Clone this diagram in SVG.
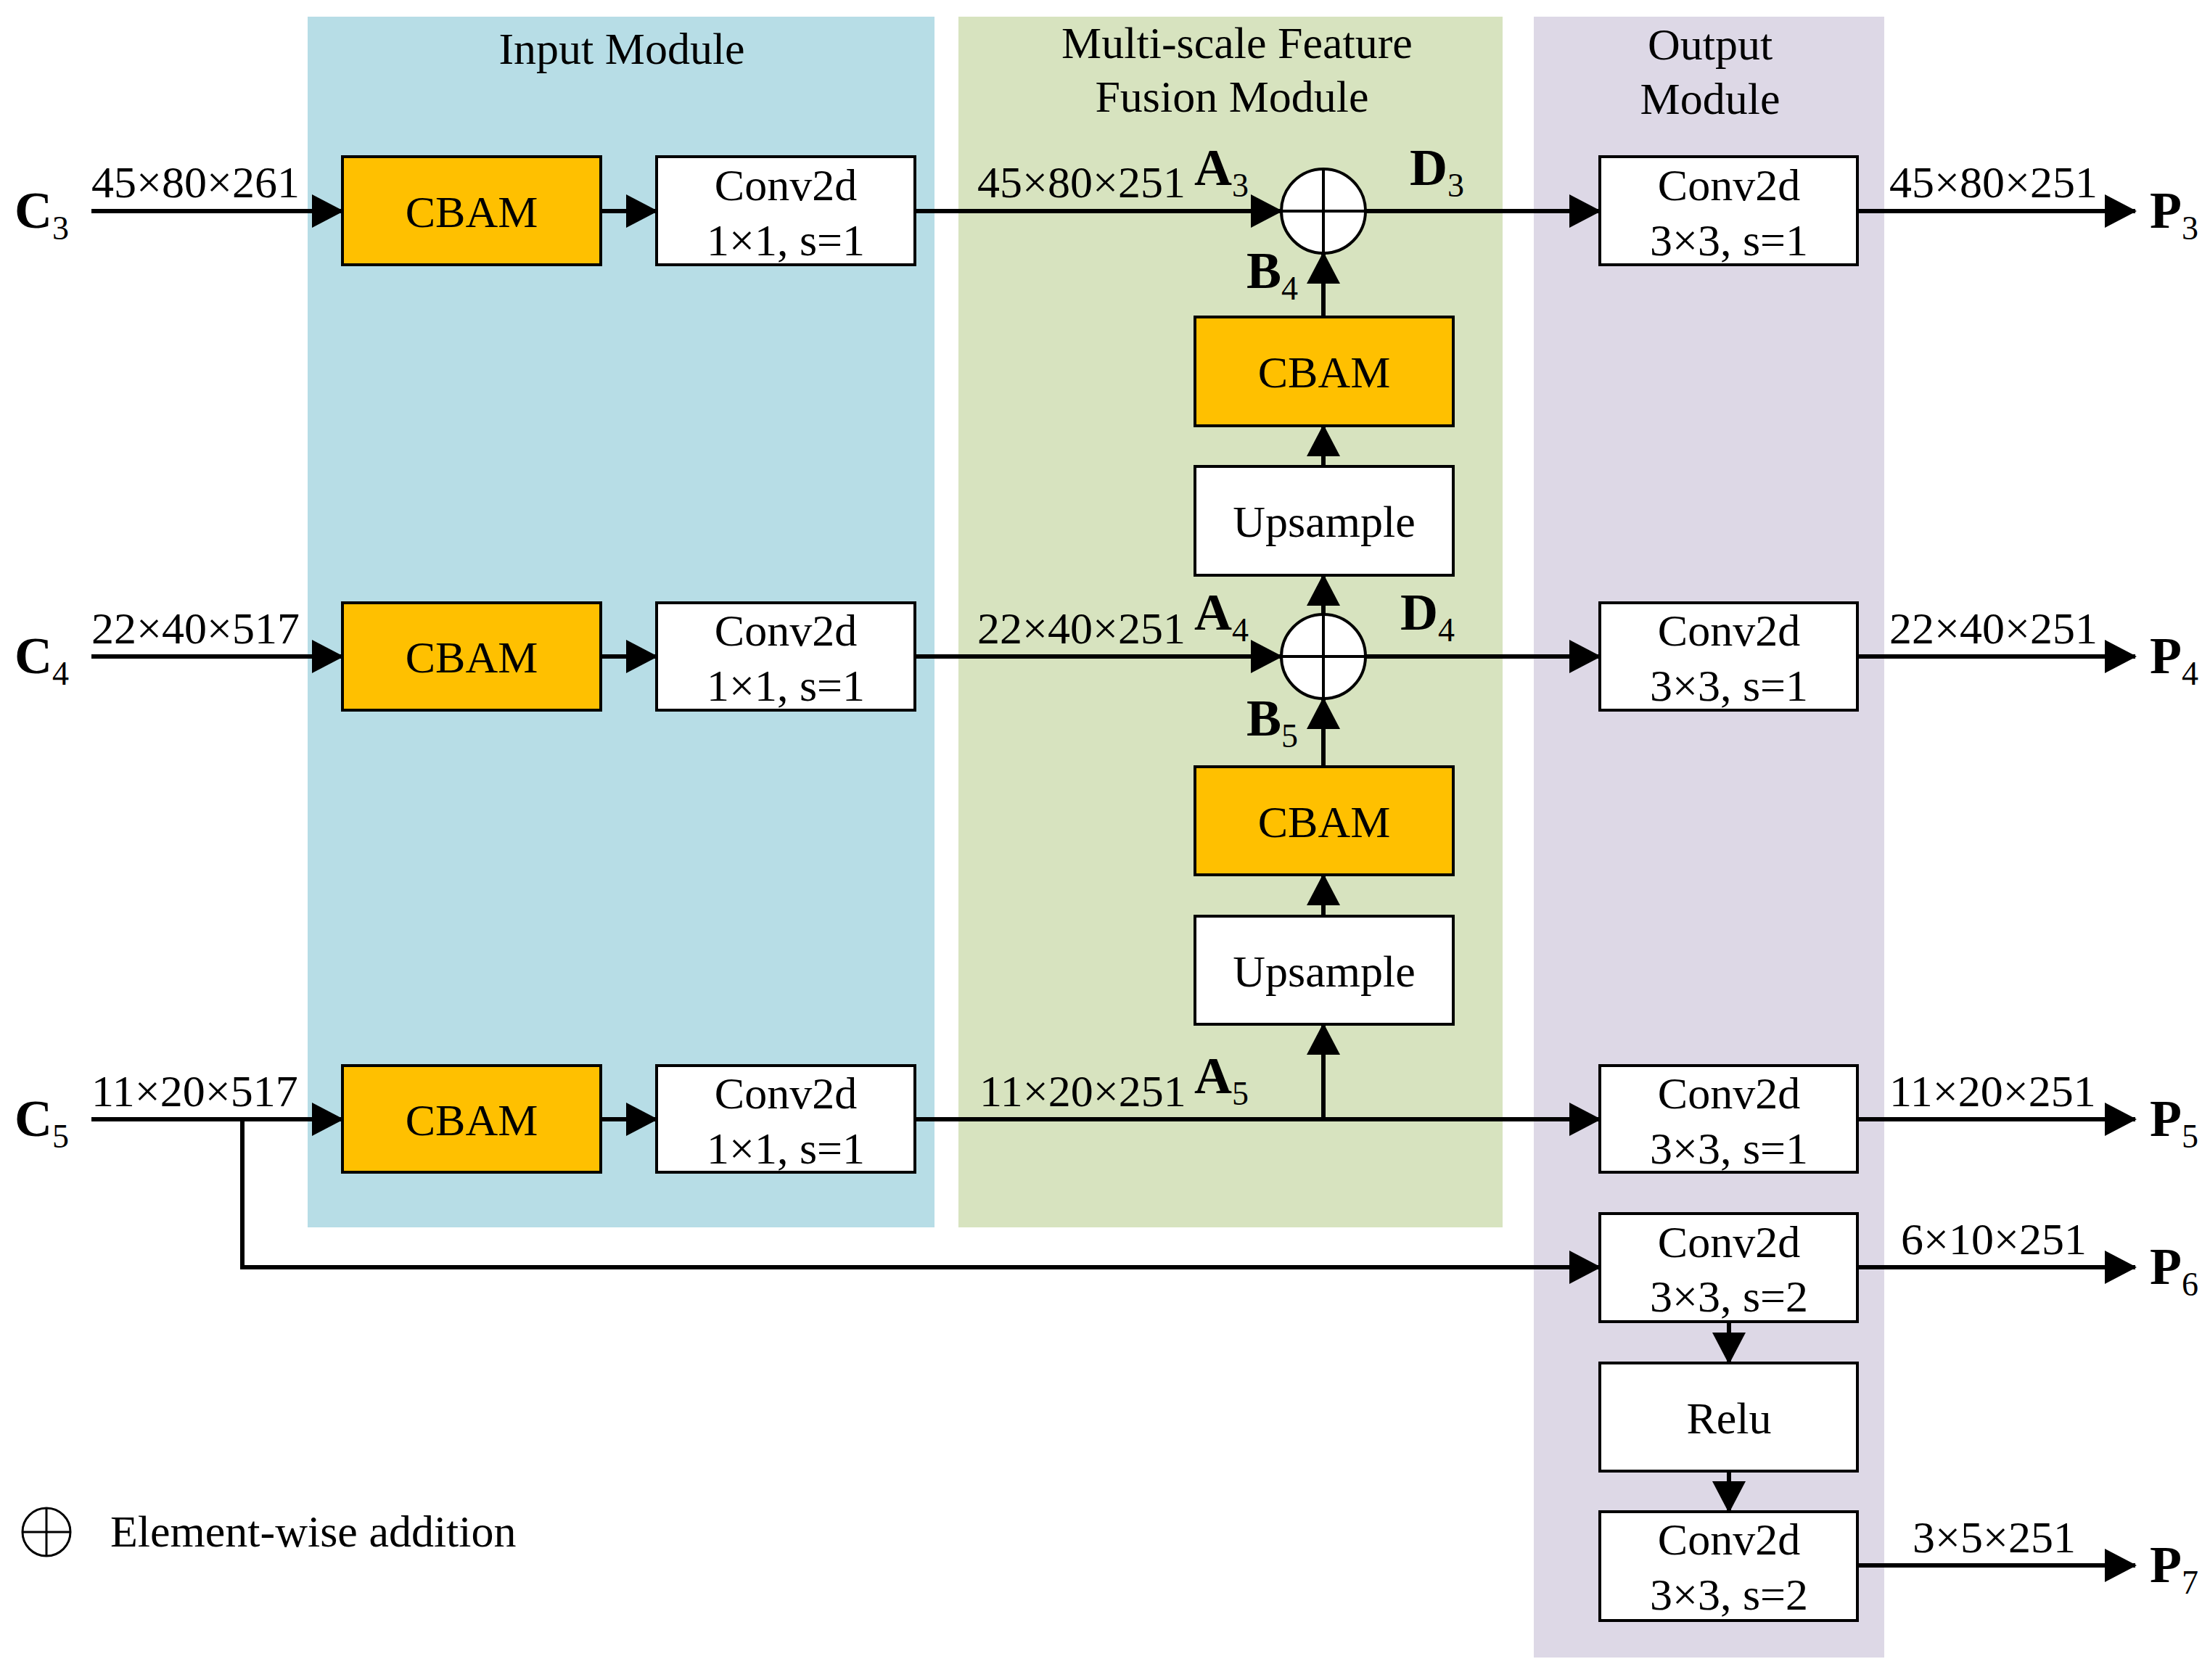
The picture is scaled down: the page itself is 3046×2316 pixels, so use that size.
<svg xmlns="http://www.w3.org/2000/svg" width="3046" height="2316" viewBox="0 0 3046 2316">
<style>
text{font-family:"Liberation Serif","Times New Roman",serif;fill:#000}
.t{font-size:62px;text-anchor:middle}
.d{font-size:62px}
.b{font-size:72px;font-weight:bold}
.s{font-size:46px;font-weight:normal}
.box{stroke:#000;stroke-width:4}
.w{fill:#fff}.y{fill:#FFC000}
.c line,.c path{stroke:#000;stroke-width:6;fill:none;marker-end:url(#ah)}
</style>
<defs>
<marker id="ah" markerUnits="userSpaceOnUse" markerWidth="44" markerHeight="46" refX="42" refY="23" orient="auto"><path d="M0,0 L44,23 L0,46 Z" fill="#000"/></marker>
</defs>
<rect width="3046" height="2316" fill="#fff"/>
<g id="panels">
<rect x="424" y="23" width="864" height="1669" fill="#B7DDE6"/>
<rect x="1321" y="23" width="750" height="1669" fill="#D7E3BF"/>
<rect x="2114" y="23" width="483" height="2262" fill="#DDD8E6"/>
<text class="t" x="857" y="88">Input Module</text>
<text class="t" x="1705" y="80">Multi-scale Feature</text>
<text class="t" x="1698" y="154">Fusion Module</text>
<text class="t" x="2357" y="82">Output</text>
<text class="t" x="2357" y="157">Module</text>
</g>
<g id="connectors" class="c">
<line x1="126" y1="291" x2="472" y2="291"/>
<line x1="828" y1="291" x2="905" y2="291"/>
<line x1="1261" y1="291" x2="1766" y2="291"/>
<line x1="1882" y1="291" x2="2205" y2="291"/>
<line x1="2560" y1="291" x2="2943" y2="291"/>
<line x1="126" y1="905" x2="472" y2="905"/>
<line x1="828" y1="905" x2="905" y2="905"/>
<line x1="1261" y1="905" x2="1766" y2="905"/>
<line x1="1882" y1="905" x2="2205" y2="905"/>
<line x1="2560" y1="905" x2="2943" y2="905"/>
<line x1="126" y1="1543" x2="472" y2="1543"/>
<line x1="828" y1="1543" x2="905" y2="1543"/>
<line x1="1261" y1="1543" x2="2205" y2="1543"/>
<line x1="2560" y1="1543" x2="2943" y2="1543"/>
<line x1="1824" y1="1543" x2="1824" y2="1412"/>
<line x1="1824" y1="1263" x2="1824" y2="1206"/>
<line x1="1824" y1="1057" x2="1824" y2="963"/>
<line x1="1824" y1="847" x2="1824" y2="793"/>
<line x1="1824" y1="643" x2="1824" y2="587"/>
<line x1="1824" y1="437" x2="1824" y2="349"/>
<path d="M334,1543 V1747 H2205"/>
<line x1="2560" y1="1747" x2="2943" y2="1747"/>
<line x1="2383" y1="1822" x2="2383" y2="1879"/>
<line x1="2383" y1="2028" x2="2383" y2="2084"/>
<line x1="2560" y1="2158" x2="2943" y2="2158"/>
</g>
<g id="input3"><rect class="box y" x="472" y="216" width="356" height="149"/><text class="t" x="650" y="313">CBAM</text></g>
<g id="conv3"><rect class="box w" x="905" y="216" width="356" height="149"/><text class="t" x="1083" y="276">Conv2d</text><text class="t" x="1083" y="352">1×1, s=1</text></g>
<g id="input4"><rect class="box y" x="472" y="831" width="356" height="148"/><text class="t" x="650" y="927">CBAM</text></g>
<g id="conv4"><rect class="box w" x="905" y="831" width="356" height="148"/><text class="t" x="1083" y="890">Conv2d</text><text class="t" x="1083" y="966">1×1, s=1</text></g>
<g id="input5"><rect class="box y" x="472" y="1469" width="356" height="147"/><text class="t" x="650" y="1565">CBAM</text></g>
<g id="conv5"><rect class="box w" x="905" y="1469" width="356" height="147"/><text class="t" x="1083" y="1528">Conv2d</text><text class="t" x="1083" y="1604">1×1, s=1</text></g>
<g id="add3"><circle class="box w" cx="1824" cy="291" r="58"/><path d="M1766,291H1882M1824,233V349" stroke="#000" stroke-width="4"/></g>
<g id="add4"><circle class="box w" cx="1824" cy="905" r="58"/><path d="M1766,905H1882M1824,847V963" stroke="#000" stroke-width="4"/></g>
<g id="cbamf4"><rect class="box y" x="1647" y="437" width="356" height="150"/><text class="t" x="1825" y="534">CBAM</text></g>
<g id="up4"><rect class="box w" x="1647" y="643" width="356" height="150"/><text class="t" x="1825" y="740">Upsample</text></g>
<g id="cbamf5"><rect class="box y" x="1647" y="1057" width="356" height="149"/><text class="t" x="1825" y="1154">CBAM</text></g>
<g id="up5"><rect class="box w" x="1647" y="1263" width="356" height="149"/><text class="t" x="1825" y="1360">Upsample</text></g>
<g id="out3"><rect class="box w" x="2205" y="216" width="355" height="149"/><text class="t" x="2383" y="276">Conv2d</text><text class="t" x="2383" y="352">3×3, s=1</text></g>
<g id="out4"><rect class="box w" x="2205" y="831" width="355" height="148"/><text class="t" x="2383" y="890">Conv2d</text><text class="t" x="2383" y="966">3×3, s=1</text></g>
<g id="out5"><rect class="box w" x="2205" y="1469" width="355" height="147"/><text class="t" x="2383" y="1528">Conv2d</text><text class="t" x="2383" y="1604">3×3, s=1</text></g>
<g id="out6"><rect class="box w" x="2205" y="1673" width="355" height="149"/><text class="t" x="2383" y="1733">Conv2d</text><text class="t" x="2383" y="1808">3×3, s=2</text></g>
<g id="relu"><rect class="box w" x="2205" y="1879" width="355" height="149"/><text class="t" x="2383" y="1976">Relu</text></g>
<g id="out7"><rect class="box w" x="2205" y="2084" width="355" height="150"/><text class="t" x="2383" y="2143">Conv2d</text><text class="t" x="2383" y="2219">3×3, s=2</text></g>
<g id="labels">
<text class="b" x="20" y="314">C<tspan class="s" dy="16">3</tspan></text>
<text class="b" x="20" y="928">C<tspan class="s" dy="16">4</tspan></text>
<text class="b" x="20" y="1566">C<tspan class="s" dy="16">5</tspan></text>
<text class="d" x="126" y="272">45×80×261</text>
<text class="d" x="126" y="887">22×40×517</text>
<text class="d" x="126" y="1525">11×20×517</text>
<text class="d" x="1347" y="272">45×80×251</text>
<text class="d" x="1347" y="887">22×40×251</text>
<text class="d" x="1350" y="1525">11×20×251</text>
<text class="b" x="1646" y="255">A<tspan class="s" dy="16">3</tspan></text>
<text class="b" x="1646" y="868">A<tspan class="s" dy="16">4</tspan></text>
<text class="b" x="1646" y="1507">A<tspan class="s" dy="16">5</tspan></text>
<text class="b" x="1943" y="255">D<tspan class="s" dy="16">3</tspan></text>
<text class="b" x="1930" y="868">D<tspan class="s" dy="16">4</tspan></text>
<text class="b" x="1718" y="397">B<tspan class="s" dy="16">4</tspan></text>
<text class="b" x="1718" y="1014">B<tspan class="s" dy="16">5</tspan></text>
<text class="d" x="2604" y="272">45×80×251</text>
<text class="d" x="2604" y="887">22×40×251</text>
<text class="d" x="2604" y="1525">11×20×251</text>
<text class="d" x="2620" y="1729">6×10×251</text>
<text class="d" x="2636" y="2140">3×5×251</text>
<text class="b" x="2963" y="314">P<tspan class="s" dy="16">3</tspan></text>
<text class="b" x="2963" y="928">P<tspan class="s" dy="16">4</tspan></text>
<text class="b" x="2963" y="1566">P<tspan class="s" dy="16">5</tspan></text>
<text class="b" x="2963" y="1770">P<tspan class="s" dy="16">6</tspan></text>
<text class="b" x="2963" y="2181">P<tspan class="s" dy="16">7</tspan></text>
</g>
<g id="legend"><circle cx="64" cy="2112" r="33" fill="#fff" stroke="#000" stroke-width="3"/><path d="M31,2112H97M64,2079V2145" stroke="#000" stroke-width="3"/><text class="d" x="152" y="2132">Element-wise addition</text></g>
</svg>
